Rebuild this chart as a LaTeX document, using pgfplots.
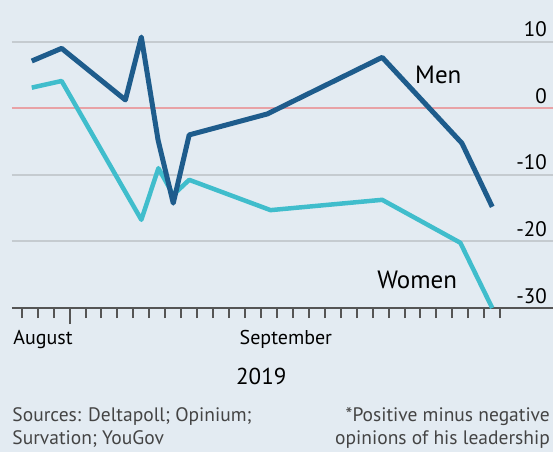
\documentclass[border=0pt]{standalone}
\usepackage{fontspec}
\setmainfont{PT Sans}
\usepackage{pgfplots}
\pgfplotsset{compat=1.18}
\usetikzlibrary{backgrounds}

\definecolor{bg}{HTML}{E3EBF2}
\definecolor{menblue}{HTML}{1E5C8C}
\definecolor{womencyan}{HTML}{40BDCC}
\definecolor{gridgrey}{HTML}{C5CBD0}
\definecolor{zeropink}{HTML}{E8A2A6}
\definecolor{axisgrey}{HTML}{555555}
\definecolor{notegrey}{HTML}{444444}

\begin{document}
\begin{tikzpicture}
\begin{axis}[
  name=ax,
  scale only axis,
  width=541pt, height=266.3pt,
  xmin=-0.61, xmax=33.31,
  ymin=-30, ymax=10,
  clip=false,
  axis x line*=bottom,
  axis y line*=right,
  x axis line style={axisgrey, line width=2pt, -},
  y axis line style={draw=none},
  xtick={0,1,2,4,5,...,30},
  xticklabel=\empty,
  extra x ticks={3},
  extra x tick labels={},
  extra x tick style={major tick length=16pt},
  tick align=outside,
  major tick length=10pt,
  xtick style={axisgrey, line width=2pt},
  ytick={-30,-20,-10,10},
  yticklabels={-30,-20,-10,10},
  extra y ticks={0},
  extra y tick labels={0},
  extra y tick style={grid style={zeropink, line width=2pt}},
  ytick style={draw=none},
  ymajorgrids,
  grid style={gridgrey, line width=2pt},
  yticklabel style={anchor=base east, inner sep=0pt, xshift=-16pt, yshift=5pt,
    font=\fontsize{21}{21}\selectfont},
]
% Women
\addplot[womencyan, line width=4.5pt, line join=round] coordinates
  {(0.63,3.1) (2.5,4.1) (7.5,-16.75) (8.57,-9.0) (9.5,-13.0) (10.5,-10.75)
   (15.6,-15.3) (22.6,-13.75) (27.5,-20.2) (29.5,-30)};
% Men
\addplot[menblue, line width=5pt, line join=round] coordinates
  {(0.63,7.1) (2.5,9.0) (6.5,1.25) (7.5,10.7) (8.55,-4.8) (9.5,-14.25)
   (10.5,-4.0) (15.4,-0.85) (22.6,7.65) (27.6,-5.25) (29.5,-14.8)};
\node[anchor=base west, inner sep=0pt, font=\fontsize{25}{25}\selectfont]
  at (axis cs:24.66,3.75) {Men};
\node[anchor=base west, inner sep=0pt, font=\fontsize{25}{25}\selectfont]
  at (axis cs:22.28,-27.1) {Women};
\end{axis}

\begin{scope}[every node/.style={inner sep=0pt}]
\node[anchor=base west, font=\fontsize{20}{20}\selectfont]
  at ([xshift=1.3pt,yshift=-36pt]ax.south west) {August};
\node[anchor=base west, font=\fontsize{20}{20}\selectfont]
  at ([xshift=227.5pt,yshift=-36pt]ax.south west) {September};
\node[anchor=base west, font=\fontsize{23}{23}\selectfont]
  at ([xshift=224pt,yshift=-76pt]ax.south west) {2019};
\node[anchor=base west, text=notegrey, font=\fontsize{19.5}{19.5}\selectfont]
  at ([xshift=0.3pt,yshift=-113.8pt]ax.south west) {Sources: Deltapoll; Opinium;};
\node[anchor=base west, text=notegrey, font=\fontsize{19.5}{19.5}\selectfont]
  at ([xshift=0.3pt,yshift=-136pt]ax.south west) {Survation; YouGov};
\node[anchor=base east, text=notegrey, font=\fontsize{19.5}{19.5}\selectfont]
  at ([xshift=-3pt,yshift=-113.8pt]ax.south east) {*Positive minus negative};
\node[anchor=base east, text=notegrey, font=\fontsize{19.5}{19.5}\selectfont]
  at ([xshift=-3pt,yshift=-136pt]ax.south east) {opinions of his leadership};
\end{scope}

\begin{scope}[on background layer]
\fill[bg] ([xshift=-12pt,yshift=-144pt]ax.south west) rectangle ([yshift=41.7pt]ax.north east);
\end{scope}
\pgfresetboundingbox
\path[use as bounding box] ([xshift=-12pt,yshift=-144pt]ax.south west) rectangle ([yshift=41.7pt]ax.north east);
\end{tikzpicture}
\end{document}
